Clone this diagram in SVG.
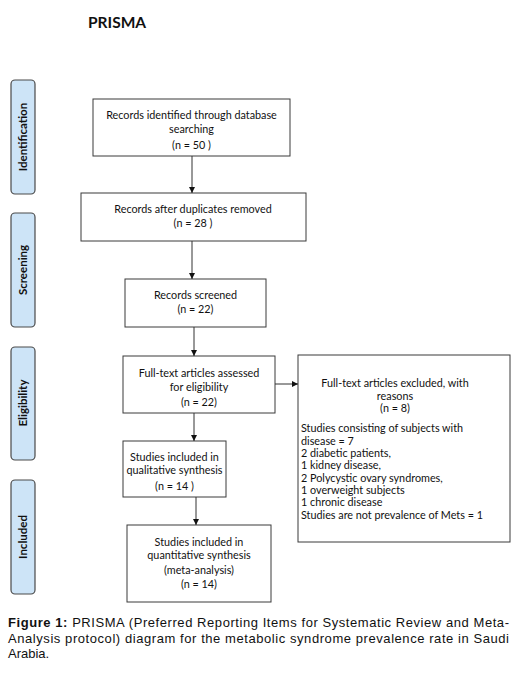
<svg xmlns="http://www.w3.org/2000/svg" width="518" height="673" viewBox="0 0 518 673">
<defs>
<style>
.bx{fill:#fff;stroke:#3a3a3a;stroke-width:1}
.side{fill:#cde4f7;stroke:#4a4a4a;stroke-width:1.2}
.t{font-family:Lato,"Open Sans",sans-serif;font-size:10.8px;fill:#111;text-anchor:middle}
.tl{font-family:Lato,"Open Sans",sans-serif;font-size:10.8px;fill:#111}
.st{font-family:Lato,"Open Sans",sans-serif;font-size:11.5px;font-weight:bold;fill:#111;text-anchor:middle}
.ln{stroke:#333;stroke-width:1;fill:none;marker-end:url(#ah)}
.cap{font-family:"Liberation Sans",Arial,sans-serif;font-size:13px;fill:#111}
</style>
<marker id="ah" viewBox="0 0 10 10" refX="10" refY="5" markerWidth="6" markerHeight="6" markerUnits="userSpaceOnUse" orient="auto">
<path d="M0,0 L10,5 L0,10 z" fill="#111"/>
</marker>
</defs>
<rect width="518" height="673" fill="#fff"/>
<text x="88" y="28" font-family="Lato,'Open Sans',sans-serif" font-size="15.5" font-weight="bold" fill="#111">PRISMA</text>

<g id="side-identification"><rect class="side" x="11" y="80" width="24" height="114" rx="4"/><text class="st" transform="translate(27,137) rotate(-90)">Identification</text></g>
<g id="side-screening"><rect class="side" x="11" y="213" width="24" height="114" rx="4"/><text class="st" transform="translate(27,270) rotate(-90)">Screening</text></g>
<g id="side-eligibility"><rect class="side" x="11" y="347" width="24" height="113" rx="4"/><text class="st" transform="translate(27,403) rotate(-90)">Eligibility</text></g>
<g id="side-included"><rect class="side" x="11" y="480" width="24" height="114" rx="4"/><text class="st" transform="translate(27,537) rotate(-90)">Included</text></g>

<g id="n1"><rect class="bx" x="93" y="99" width="197" height="57"/>
<text class="t" x="191.5" y="119">Records identified through database</text>
<text class="t" x="191.5" y="133">searching</text>
<text class="t" x="191.5" y="149">(n = 50 )</text></g>

<g id="n2"><rect class="bx" x="81" y="193" width="225" height="48"/>
<text class="t" x="193" y="213">Records after duplicates removed</text>
<text class="t" x="193" y="227">(n = 28 )</text></g>

<g id="n3"><rect class="bx" x="125" y="279" width="141" height="48"/>
<text class="t" x="195.5" y="299">Records screened</text>
<text class="t" x="195.5" y="313">(n = 22)</text></g>

<g id="n4"><rect class="bx" x="123" y="356" width="152" height="57"/>
<text class="t" x="199" y="377">Full-text articles assessed</text>
<text class="t" x="199" y="391">for eligibility</text>
<text class="t" x="199" y="406">(n = 22)</text></g>

<g id="n5"><rect class="bx" x="298" y="355" width="212" height="187"/>
<text class="t" x="395" y="387">Full-text articles excluded, with</text>
<text class="t" x="395" y="400">reasons</text>
<text class="t" x="395" y="412">(n = 8)</text>
<text class="tl" x="301" y="432">Studies consisting of subjects with</text>
<text class="tl" x="301" y="445">disease = 7</text>
<text class="tl" x="301" y="457">2 diabetic patients,</text>
<text class="tl" x="301" y="469">1 kidney disease,</text>
<text class="tl" x="301" y="482">2 Polycystic ovary syndromes,</text>
<text class="tl" x="301" y="494">1 overweight subjects</text>
<text class="tl" x="301" y="506">1 chronic disease</text>
<text class="tl" x="301" y="519">Studies are not prevalence of Mets = 1</text></g>

<g id="n6"><rect class="bx" x="123" y="441" width="103" height="56"/>
<text class="t" x="174.5" y="461">Studies included in</text>
<text class="t" x="174.5" y="474">qualitative synthesis</text>
<text class="t" x="174.5" y="490">(n = 14 )</text></g>

<g id="n7"><rect class="bx" x="127" y="525" width="144" height="77"/>
<text class="t" x="199" y="546">Studies included in</text>
<text class="t" x="199" y="559">quantitative synthesis</text>
<text class="t" x="199" y="574">(meta-analysis)</text>
<text class="t" x="199" y="588">(n = 14)</text></g>

<g id="connectors">
<line class="ln" x1="192" y1="156" x2="192" y2="193"/>
<line class="ln" x1="192" y1="241" x2="192" y2="279"/>
<line class="ln" x1="194" y1="327" x2="194" y2="356"/>
<line class="ln" x1="275" y1="384" x2="298" y2="384"/>
<line class="ln" x1="194" y1="413" x2="194" y2="441"/>
<line class="ln" x1="196" y1="497" x2="196" y2="525"/>
</g>

<g id="caption">
<text class="cap" x="8" y="627" textLength="501" lengthAdjust="spacing"><tspan font-weight="bold">Figure 1:</tspan> PRISMA (Preferred Reporting Items for Systematic Review and Meta-</text>
<text class="cap" x="8" y="643" textLength="501" lengthAdjust="spacing">Analysis protocol) diagram for the metabolic syndrome prevalence rate in Saudi</text>
<text class="cap" x="8" y="658">Arabia.</text>
</g>
</svg>
